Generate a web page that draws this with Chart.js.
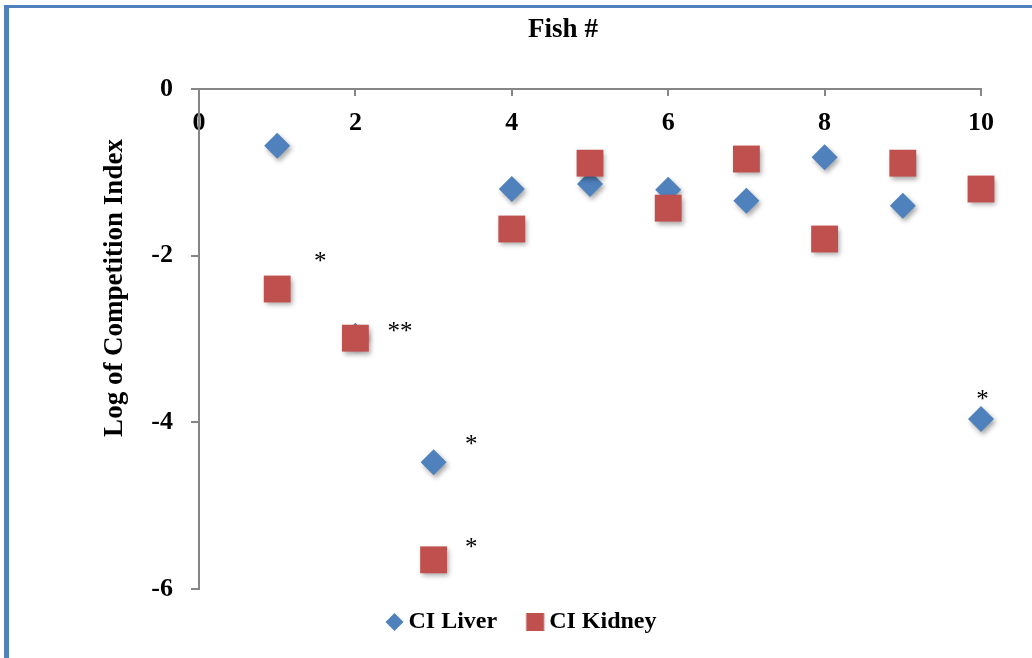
<!DOCTYPE html>
<html>
<head>
<meta charset="utf-8">
<title>Log of Competition Index</title>
<script src="https://cdn.jsdelivr.net/npm/chart.js@4.4.1/dist/chart.umd.min.js"></script>
<style>
    html, body { margin: 0; padding: 0; background: #fff; overflow: hidden; }
    #frame {
        position: absolute; left: 4px; top: 5px; width: 1100px; height: 700px;
        border-left: 5px solid #4f81bd; border-top: 3px solid #4f81bd;
    }
    #chart-wrapper { position: absolute; left: 0; top: 0; width: 1032px; height: 658px; }
</style>
</head>
<body>
<div id="frame"></div>
<div id="chart-wrapper"><canvas id="ci-chart"></canvas></div>
<script>
const fishNumbers = [1, 2, 3, 4, 5, 6, 7, 8, 9, 10];
const liverCI = [-0.68, -2.96, -4.48, -1.20, -1.14, -1.21, -1.34, -0.82, -1.40, -3.96];
const kidneyCI = [-2.40, -2.99, -5.65, -1.68, -0.89, -1.43, -0.84, -1.80, -0.89, -1.20];

const xTickValues = [0, 2, 4, 6, 8, 10];
const yTickValues = [0, -2, -4, -6];

// significance stars, placed in data units next to the points
const starText = ['*', '**', '*', '*', '*'];
const starX = [1.55, 2.57, 3.48, 3.48, 10.02];
const starY = [-2.02, -2.86, -4.21, -5.45, -3.67];

const BLUE = '#4f81bd';
const RED = '#c0504d';
const AXIS_GREY = '#868686';
const SERIF = '"Liberation Serif", "Times New Roman", serif';

function toPoints(values) {
    return fishNumbers.map((x, i) => ({ x, y: values[i] }));
}

// legend swatches: the shape sits right of the image centre so the
// label text starts close to it while items keep a wide gap
function makeSwatch(kind, color) {
    const c = document.createElement('canvas');
    c.width = 40;
    c.height = 20;
    const g = c.getContext('2d');
    const cx = 27.5;
    g.fillStyle = color;
    if (kind === 'diamond') {
        g.beginPath();
        g.moveTo(cx, 1);
        g.lineTo(cx + 9, 10);
        g.lineTo(cx, 19);
        g.lineTo(cx - 9, 10);
        g.closePath();
        g.fill();
    } else {
        g.fillRect(cx - 9, 1, 18, 18);
    }
    return c;
}
const legendSwatches = [makeSwatch('diamond', BLUE), makeSwatch('square', RED)];

const markerShadow = {
    id: 'markerShadow',
    beforeDatasetsDraw(chart) {
        const ctx = chart.ctx;
        ctx.save();
        ctx.shadowColor = 'rgba(0, 0, 0, 0.35)';
        ctx.shadowBlur = 5;
        ctx.shadowOffsetX = 2;
        ctx.shadowOffsetY = 3;
    },
    afterDatasetsDraw(chart) {
        chart.ctx.restore();
    }
};

const axisTitles = {
    id: 'axisTitles',
    afterDraw(chart) {
        const { ctx, chartArea } = chart;
        ctx.save();
        ctx.fillStyle = '#000';
        ctx.font = 'bold 27px ' + SERIF;
        ctx.textAlign = 'center';
        ctx.textBaseline = 'middle';
        ctx.fillText('Fish #', chartArea.left + 364, chartArea.top - 59);
        ctx.translate(chartArea.left - 84, chartArea.top + 199);
        ctx.rotate(-Math.PI / 2);
        ctx.fillText('Log of Competition Index', 0, 0);
        ctx.restore();
    }
};

const starLabels = {
    id: 'starLabels',
    afterDatasetsDraw(chart) {
        const { ctx, scales } = chart;
        ctx.save();
        ctx.fillStyle = '#000';
        ctx.font = '25px ' + SERIF;
        ctx.textAlign = 'center';
        ctx.textBaseline = 'alphabetic';
        starText.forEach((text, i) => {
            const m = ctx.measureText(text);
            const px = scales.x.getPixelForValue(starX[i]);
            const py = scales.y.getPixelForValue(starY[i]);
            const shift = (m.actualBoundingBoxAscent - m.actualBoundingBoxDescent) / 2;
            ctx.fillText(text, px, py + shift);
        });
        ctx.restore();
    }
};

const ctx = document.getElementById('ci-chart').getContext('2d');

new Chart(ctx, {
    type: 'scatter',
    data: {
        datasets: [{
            label: 'CI Liver',
            data: toPoints(liverCI),
            pointStyle: 'rectRot',
            pointRadius: 13,
            pointHoverRadius: 13,
            pointBorderWidth: 0,
            backgroundColor: BLUE,
            borderColor: BLUE,
            order: 1,
            clip: false
        }, {
            label: 'CI Kidney',
            data: toPoints(kidneyCI),
            pointStyle: 'rect',
            pointRadius: 19,
            pointHoverRadius: 19,
            pointBorderWidth: 0,
            backgroundColor: RED,
            borderColor: RED,
            order: 0,
            clip: false
        }]
    },
    options: {
        responsive: true,
        maintainAspectRatio: false,
        animation: false,
        layout: {
            padding: { left: 53, right: 51, top: 69, bottom: 14 }
        },
        scales: {
            x: {
                type: 'linear',
                position: 'top',
                min: 0,
                max: 10,
                afterBuildTicks: scale => {
                    scale.ticks = xTickValues.map(value => ({ value }));
                },
                afterFit: scale => {
                    scale.height = 20;
                },
                border: { color: AXIS_GREY, width: 2 },
                grid: {
                    drawOnChartArea: false,
                    color: AXIS_GREY,
                    lineWidth: 2,
                    tickLength: -7
                },
                ticks: {
                    mirror: true,
                    padding: 19,
                    color: '#000',
                    font: { family: SERIF, size: 26, weight: 'bold' }
                }
            },
            y: {
                min: -6,
                max: 0,
                afterBuildTicks: scale => {
                    scale.ticks = yTickValues.map(value => ({ value }));
                },
                afterFit: scale => {
                    scale.width = 146;
                },
                border: { color: AXIS_GREY, width: 2 },
                grid: {
                    drawOnChartArea: false,
                    color: AXIS_GREY,
                    lineWidth: 2,
                    tickLength: 8
                },
                ticks: {
                    padding: 18,
                    color: '#000',
                    font: { family: SERIF, size: 26, weight: 'bold' }
                }
            }
        },
        plugins: {
            legend: {
                position: 'bottom',
                labels: {
                    usePointStyle: true,
                    boxWidth: 19,
                    boxHeight: 18,
                    padding: 21,
                    color: '#000',
                    font: { family: SERIF, size: 24, weight: 'bold' },
                    sort: (a, b) => a.datasetIndex - b.datasetIndex,
                    generateLabels: chart => {
                        const items = Chart.defaults.plugins.legend.labels.generateLabels(chart);
                        items.forEach(item => {
                            item.pointStyle = legendSwatches[item.datasetIndex];
                        });
                        return items;
                    }
                }
            },
            tooltip: { enabled: false }
        }
    },
    plugins: [markerShadow, starLabels, axisTitles]
});
</script>
</body>
</html>
